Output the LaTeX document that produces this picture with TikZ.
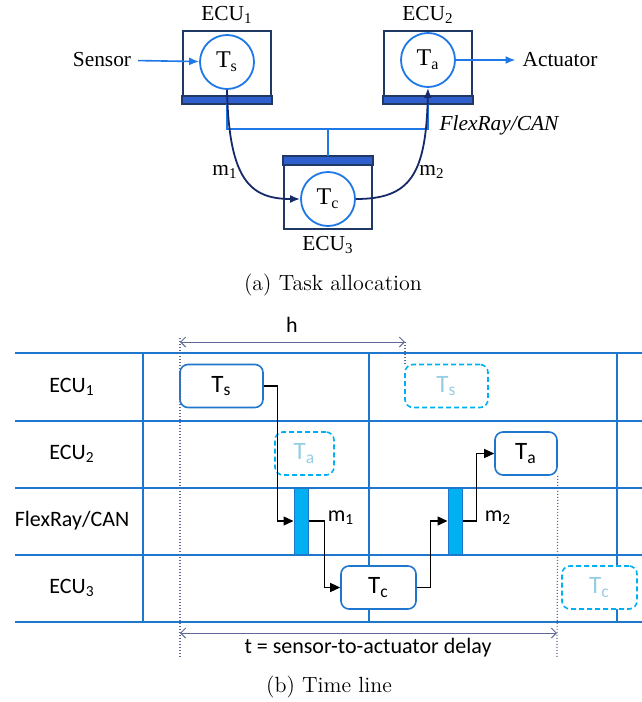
\documentclass[tikz,border=0pt]{standalone}
\usepackage{fontspec}
\newfontfamily\timesfont{Liberation Serif}
\newfontfamily\calibrifont{Carlito}
\usetikzlibrary{arrows.meta, positioning, calc}
\definecolor{ecunavy}{RGB}{31,56,100}
\definecolor{ecubar}{RGB}{47,95,205}
\definecolor{taskblue}{RGB}{30,120,230}
\definecolor{msgnavy}{RGB}{22,42,105}
\definecolor{gridblue}{RGB}{31,119,205}
\definecolor{ghostblue}{RGB}{0,176,240}
\definecolor{ghosttext}{RGB}{150,205,228}
\definecolor{dimgray}{RGB}{95,105,150}

\begin{document}
\begin{tikzpicture}[x=0.5pt, y=-0.5pt,
    ecubox/.style={rectangle, draw=ecunavy, line width=0.9pt, minimum width=44pt, minimum height=36pt, inner sep=0pt},
    taskcirc/.style={circle, draw=taskblue, line width=0.9pt, fill=white, minimum size=27pt, inner sep=0pt, font=\timesfont\fontsize{12}{14}\selectfont},
    tlabel/.style={font=\timesfont\fontsize{10.7}{12}\selectfont},
    sig/.style={-{Latex[length=5pt, width=4pt]}, taskblue, line width=0.8pt},
    msg/.style={-{Latex[length=5pt, width=4pt]}, msgnavy, line width=0.9pt},
    busline/.style={taskblue, line width=0.8pt},
    gridline/.style={gridblue, line width=1pt},
    job/.style={rectangle, rounded corners=4pt, draw=gridblue, line width=0.8pt, fill=white, minimum height=21.5pt, inner sep=0pt, font=\calibrifont\fontsize{12.5}{14}\selectfont},
    ghost/.style={job, draw=ghostblue, dash pattern=on 2.5pt off 1.5pt, text=ghosttext},
    msgframe/.style={rectangle, draw=gridblue, fill=ghostblue, line width=0.5pt, minimum width=7pt, minimum height=33pt, inner sep=0pt},
    flow/.style={-{Triangle[length=5pt, width=4.5pt]}, black, line width=0.7pt},
    dimline/.style={{Straight Barb[length=2.5pt]}-{Straight Barb[length=2.5pt]}, dimgray, line width=0.5pt},
    guide/.style={dimgray, dash pattern=on 0.5pt off 1pt, line width=0.6pt},
    rowlabel/.style={font=\calibrifont\fontsize{11}{13}\selectfont},
    caption/.style={font=\fontsize{11}{13}\selectfont}
]
\useasboundingbox (0,0) rectangle (642,702);

% (a) Task allocation
\node[ecubox] (ecu1) at (227,67) {};
\node[ecubox] (ecu2) at (428,67) {};
\node[ecubox] (ecu3) at (328,193) {};
\filldraw[fill=ecubar, draw=ecunavy, line width=0.9pt] (ecu1.south west) rectangle ([yshift=4pt]ecu1.south east);
\filldraw[fill=ecubar, draw=ecunavy, line width=0.9pt] (ecu2.south west) rectangle ([yshift=4pt]ecu2.south east);
\filldraw[fill=ecubar, draw=ecunavy, line width=0.9pt] (ecu3.north west) rectangle ([yshift=-4.5pt]ecu3.north east);

\node[tlabel] (ecu1lab) at (227,15) {ECU\textsubscript{1}};
\node[tlabel] (ecu2lab) at (428,15) {ECU\textsubscript{2}};
\node[tlabel] (ecu3lab) at (328,245) {ECU\textsubscript{3}};

\node[taskcirc] (ts) at (227,62) {T\textsubscript{s}};
\node[taskcirc] (ta) at (428,60) {T\textsubscript{a}};
\node[taskcirc] (tc) at (328,199) {T\textsubscript{c}};

\node[tlabel] (sensor) at (102,60) {Sensor};
\node[tlabel] (actuator) at (560,60) {Actuator};
\draw[sig] (sensor) -- (ts);
\draw[sig] (ta) -- (actuator);

% bus
\coordinate (busl) at (227,129);
\coordinate (busr) at (428,129);
\draw[busline] (ecu1.south) -- (busl) -- (busr) -- (ecu2.south);
\draw[busline] (ecu3.north) -- (ecu3.north |- busl);
\node[tlabel, font=\timesfont\itshape\fontsize{10.7}{12}\selectfont] (busname) at (499,125) {FlexRay/CAN};

% messages
\draw[msg] (ts.south) .. controls (229,180) and (250,199) .. (tc.west);
\draw[msg] (tc.east) .. controls (410,199) and (426,175) .. (ta.south);
\node[tlabel] (m1) at (225,172) {m\textsubscript{1}};
\node[tlabel] (m2) at (432,172) {m\textsubscript{2}};

\node[caption] (capa) at (333,285) {(a)\ Task allocation};

% (b) Time line
\foreach \y in {353,421,488,555,622}
    \draw[gridline] (15,\y) -- (642,\y);
\foreach \x in {143,369,617}
    \draw[gridblue, line width=0.8pt] (\x,353) -- (\x,622);

\node[rowlabel] (r1) at (72,387) {ECU\textsubscript{1}};
\node[rowlabel] (r2) at (72,454) {ECU\textsubscript{2}};
\node[rowlabel] (r3) at (72,521) {FlexRay/CAN};
\node[rowlabel] (r4) at (72,588) {ECU\textsubscript{3}};

\node[job, minimum width=41.5pt] (ts2) at (221.5,386) {T\textsubscript{s}};
\node[ghost, minimum width=29.5pt] (tag) at (304.5,453.5) {T\textsubscript{a}};
\node[ghost, minimum width=41.5pt] (tsg) at (446.5,386) {T\textsubscript{s}};
\node[job, minimum width=31pt] (ta2) at (526,453.5) {T\textsubscript{a}};
\node[job, minimum width=37.5pt] (tc2) at (378.5,587.5) {T\textsubscript{c}};
\node[ghost, minimum width=37.5pt] (tcg) at (599.5,587.5) {T\textsubscript{c}};

\node[msgframe] (bar1) at (301,521) {};
\node[msgframe] (bar2) at (455,521) {};
\node[rowlabel] (m1b) at (341,518) {m\textsubscript{1}};
\node[rowlabel] (m2b) at (498,518) {m\textsubscript{2}};

\draw[flow] (ts2.east) -| ([xshift=-8pt]bar1.west) -- (bar1.west);
\draw[flow] (bar1.east) -| ([xshift=-8pt]tc2.west) -- (tc2.west);
\draw[flow] (tc2.east) -| ([xshift=-8.5pt]bar2.west) -- (bar2.west);
\draw[flow] (bar2.east) -| ([xshift=-9pt]ta2.west) -- (ta2.west);

% dimensions
\coordinate (hl) at (180,342);
\coordinate (hr) at (405,342);
\coordinate (tl) at (180,633);
\coordinate (tr) at (557,633);
\draw[guide] (180,338) -- (180,657);
\draw[guide] (hr) -- (hr |- tsg.north);
\draw[guide] (ta2.south east) -- (557,657);
\draw[dimline] (hl) -- (hr);
\draw[dimline] (tl) -- (tr);
\node[rowlabel] (hlab) at (292,325) {h};
\node[rowlabel] (tlab) at (368,648) {t = sensor-to-actuator delay};

\node[caption] (capb) at (329,687) {(b)\ Time line};

\end{tikzpicture}
\end{document}
